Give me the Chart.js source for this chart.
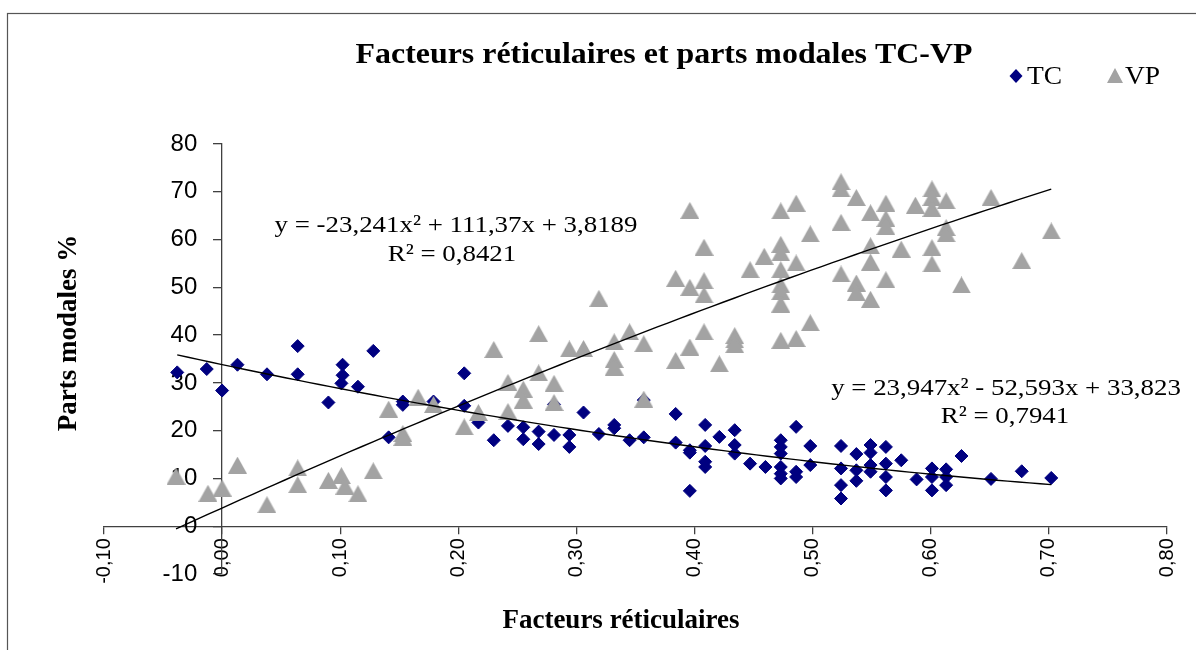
<!DOCTYPE html>
<html>
<head>
<meta charset="utf-8">
<script src="https://cdn.jsdelivr.net/npm/chart.js@4.4.1/dist/chart.umd.min.js"></script>
<style>
  html, body { margin: 0; padding: 0; background: #fff; }
  #wrap { width: 1196px; height: 650px; position: relative; }
</style>
</head>
<body>
<div id="wrap"><canvas id="modalChart"></canvas></div>
<script>
// Parts modales TC (transports collectifs) par facteur réticulaire
const tcX = [-0.038, -0.013, 0.000, 0.013, 0.038, 0.064, 0.064, 0.090, 0.102, 0.102,
             0.101, 0.115, 0.128, 0.141, 0.153, 0.153, 0.179, 0.205, 0.205, 0.217,
             0.230, 0.242, 0.255, 0.255, 0.268, 0.268, 0.281, 0.281, 0.294, 0.294,
             0.306, 0.319, 0.332, 0.332, 0.345, 0.357, 0.357, 0.384, 0.384, 0.396,
             0.396, 0.396, 0.409, 0.409, 0.409, 0.409, 0.421, 0.434, 0.434, 0.434,
             0.447, 0.460, 0.473, 0.473, 0.473, 0.473, 0.473, 0.473, 0.486, 0.486,
             0.486, 0.498, 0.498, 0.524, 0.524, 0.524, 0.524, 0.537, 0.537, 0.537,
             0.549, 0.549, 0.549, 0.549, 0.562, 0.562, 0.562, 0.562, 0.575, 0.588,
             0.601, 0.601, 0.601, 0.613, 0.613, 0.613, 0.626, 0.651, 0.677, 0.702];
const tcY = [32.2, 32.9, 28.4, 33.8, 31.8, 37.7, 31.8, 25.9, 33.8, 31.6,
             29.9, 29.2, 36.7, 18.6, 26.1, 25.4, 26.1, 32.0, 25.2, 21.7,
             18.0, 21.0, 20.7, 18.2, 19.8, 17.2, 19.1, 25.5, 19.1, 16.6,
             23.8, 19.3, 21.2, 20.5, 18.0, 18.6, 26.4, 23.5, 17.5, 15.9,
             15.4, 7.4, 21.2, 16.8, 13.5, 12.4, 18.7, 20.1, 17.0, 15.2,
             13.1, 12.4, 18.0, 16.6, 15.2, 12.4, 11.0, 10.0, 20.8, 11.4,
             10.3, 16.8, 12.8, 16.8, 12.1, 8.6, 5.8, 15.1, 11.7, 9.5,
             17.0, 15.4, 12.8, 11.4, 16.6, 13.1, 10.3, 7.5, 13.8, 9.8,
             12.1, 10.3, 7.5, 11.9, 10.3, 8.6, 14.7, 9.9, 11.5, 10.1];

// Parts modales VP (voiture particulière)
const vpX = [-0.039, -0.012, 0.000, 0.013, 0.038, 0.064, 0.064, 0.090, 0.101, 0.104,
             0.115, 0.128, 0.141, 0.153, 0.153, 0.166, 0.179, 0.205, 0.217, 0.230,
             0.242, 0.242, 0.255, 0.255, 0.268, 0.268, 0.281, 0.281, 0.294, 0.306,
             0.319, 0.332, 0.332, 0.332, 0.345, 0.357, 0.357, 0.384, 0.384, 0.396,
             0.396, 0.396, 0.408, 0.408, 0.408, 0.408, 0.421, 0.434, 0.434, 0.434,
             0.447, 0.459, 0.473, 0.473, 0.473, 0.473, 0.473, 0.473, 0.473, 0.473,
             0.486, 0.486, 0.486, 0.498, 0.498, 0.524, 0.524, 0.524, 0.524, 0.537,
             0.537, 0.537, 0.549, 0.549, 0.549, 0.549, 0.562, 0.562, 0.562, 0.562,
             0.575, 0.587, 0.601, 0.601, 0.601, 0.601, 0.601, 0.613, 0.613, 0.613,
             0.626, 0.651, 0.677, 0.702];
const vpY = [10.5, 6.9, 8.0, 12.8, 4.5, 12.2, 8.7, 9.6, 10.6, 8.4,
             6.8, 11.6, 24.5, 19.4, 18.6, 27.0, 25.5, 20.8, 23.8, 37.0,
             24.0, 30.1, 28.7, 26.4, 32.1, 40.3, 29.9, 25.9, 37.1, 37.2,
             47.7, 38.6, 34.9, 33.3, 40.7, 26.6, 38.2, 34.7, 51.9, 37.5,
             50.0, 66.1, 58.4, 51.4, 48.4, 40.7, 34.0, 39.9, 39.0, 38.0,
             53.7, 56.5, 66.0, 59.0, 57.2, 53.7, 50.5, 49.1, 46.5, 38.9,
             67.6, 55.1, 39.3, 61.2, 42.6, 72.1, 70.6, 63.6, 52.8, 68.8,
             50.9, 48.9, 65.6, 58.7, 55.3, 47.5, 67.6, 64.4, 62.7, 51.6,
             58.0, 67.2, 70.6, 68.8, 66.5, 58.3, 54.9, 68.1, 62.5, 61.2,
             50.5, 68.8, 55.6, 61.8];

// Courbes de tendance polynomiales (ordre 2) : a, b, c
const tcFit = [23.947, -52.593, 33.823];
const vpFit = [-23.241, 111.37, 3.8189];
const tcEquation = ['y = 23,947x² - 52,593x + 33,823', 'R² = 0,7941'];
const vpEquation = ['y = -23,241x² + 111,37x + 3,8189', 'R² = 0,8421'];

const seriesNames = ['TC', 'VP'];
const xTickLabels = ['-0,10', '0,00', '0,10', '0,20', '0,30', '0,40', '0,50', '0,60', '0,70', '0,80'];
const yTickLabels = ['-10', '0', '10', '20', '30', '40', '50', '60', '70', '80'];

const chartTitle = 'Facteurs réticulaires et parts modales TC-VP';
const xTitle = 'Facteurs réticulaires';
const yTitle = 'Parts modales %';

const TC_COLOR = '#000080';
const VP_COLOR = '#a3a3a3';
const AXIS_COLOR = '#404040';
const SERIF = '"Liberation Serif", "Times New Roman", serif';
const SANS = '"Liberation Sans", Arial, sans-serif';

function toPoints(xs, ys) {
    return xs.map((x, i) => ({ x: x, y: ys[i] }));
}

// Trace la courbe y = a*x^2 + b*x + c sur l'étendue des x de la série
function fitCurve(coefs, xs) {
    const lo = Math.min(...xs);
    const hi = Math.max(...xs);
    const pts = [];
    for (let i = 0; i <= 80; i++) {
        const x = lo + (hi - lo) * i / 80;
        pts.push({ x: x, y: coefs[0] * x * x + coefs[1] * x + coefs[2] });
    }
    return pts;
}

// Marqueur triangle type Excel
function triangleMarker(w, h, color) {
    const c = document.createElement('canvas');
    c.width = w;
    c.height = h;
    const g = c.getContext('2d');
    g.fillStyle = color;
    g.beginPath();
    g.moveTo(w / 2, 0);
    g.lineTo(w, h);
    g.lineTo(0, h);
    g.closePath();
    g.fill();
    return c;
}

const vpMarker = triangleMarker(19, 17, VP_COLOR);
const vpLegendMarker = triangleMarker(16, 15, VP_COLOR);

// Texte étiré horizontalement (police un peu large)
function drawText(ctx, text, x, y, font, align, sx) {
    ctx.save();
    ctx.font = font;
    ctx.textAlign = align;
    ctx.textBaseline = 'alphabetic';
    ctx.fillStyle = '#000';
    ctx.translate(x, y);
    ctx.scale(sx, 1);
    ctx.fillText(text, 0, 0);
    ctx.restore();
}

const decorations = {
    id: 'decorations',
    beforeDraw(chart) {
        const ctx = chart.ctx;
        ctx.save();
        ctx.fillStyle = '#fff';
        ctx.fillRect(0, 0, chart.width, chart.height);
        ctx.strokeStyle = '#555';
        ctx.lineWidth = 1.2;
        ctx.strokeRect(7.5, 13.5, chart.width + 20, chart.height + 20);
        ctx.restore();
    },
    afterDraw(chart) {
        const ctx = chart.ctx;

        // titre
        drawText(ctx, chartTitle, 664, 63, 'bold 29px ' + SERIF, 'center', 1.1);

        // titres des axes
        drawText(ctx, xTitle, 621, 628, 'bold 27px ' + SERIF, 'center', 1.0);
        ctx.save();
        ctx.translate(76, 333);
        ctx.rotate(-Math.PI / 2);
        drawText(ctx, yTitle, 0, 0, 'bold 27px ' + SERIF, 'center', 1.0);
        ctx.restore();

        // légende
        ctx.save();
        ctx.fillStyle = TC_COLOR;
        ctx.beginPath();
        ctx.moveTo(1016, 69);
        ctx.lineTo(1022.5, 76);
        ctx.lineTo(1016, 83);
        ctx.lineTo(1009.5, 76);
        ctx.closePath();
        ctx.fill();
        ctx.drawImage(vpLegendMarker, 1107, 68);
        ctx.restore();
        drawText(ctx, seriesNames[0], 1027, 84, '25px ' + SERIF, 'left', 1.1);
        drawText(ctx, seriesNames[1], 1125, 84, '25px ' + SERIF, 'left', 1.1);

        // équations des courbes de tendance
        drawText(ctx, vpEquation[0], 456, 232, '24px ' + SERIF, 'center', 1.12);
        drawText(ctx, vpEquation[1], 452, 261, '24px ' + SERIF, 'center', 1.12);
        drawText(ctx, tcEquation[0], 1006, 395, '24px ' + SERIF, 'center', 1.12);
        drawText(ctx, tcEquation[1], 1005, 423, '24px ' + SERIF, 'center', 1.12);
    }
};

const axisGrid = (len) => ({
    display: true,
    drawOnChartArea: false,
    drawTicks: true,
    tickLength: len,
    color: AXIS_COLOR,
    lineWidth: 1.3
});

const ctx = document.getElementById('modalChart').getContext('2d');
const modalChart = new Chart(ctx, {
    type: 'scatter',
    data: {
        datasets: [
            {
                label: seriesNames[0],
                data: toPoints(tcX, tcY),
                pointStyle: 'rectRot',
                pointRadius: 6.5,
                backgroundColor: TC_COLOR,
                borderColor: TC_COLOR,
                borderWidth: 1,
                order: 3
            },
            {
                label: seriesNames[1],
                data: toPoints(vpX, vpY),
                pointStyle: vpMarker,
                backgroundColor: VP_COLOR,
                borderColor: VP_COLOR,
                order: 2
            },
            {
                label: 'Poly. (TC)',
                data: fitCurve(tcFit, tcX),
                showLine: true,
                pointRadius: 0,
                borderColor: '#000',
                borderWidth: 1.4,
                order: 1
            },
            {
                label: 'Poly. (VP)',
                data: fitCurve(vpFit, vpX),
                showLine: true,
                pointRadius: 0,
                borderColor: '#000',
                borderWidth: 1.4,
                order: 1
            }
        ]
    },
    options: {
        responsive: true,
        maintainAspectRatio: false,
        animation: false,
        events: [],
        layout: {
            padding: { left: 104, right: 24, top: 144, bottom: 76 }
        },
        plugins: {
            legend: { display: false },
            title: { display: false },
            tooltip: { enabled: false }
        },
        scales: {
            x: {
                type: 'linear',
                min: -0.1,
                max: 0.8,
                position: { y: 0 },
                ticks: {
                    stepSize: 0.1,
                    autoSkip: false,
                    minRotation: 90,
                    maxRotation: 90,
                    padding: 5,
                    color: '#000',
                    font: { family: SANS, size: 20 },
                    callback: (value, index) => xTickLabels[index]
                },
                grid: axisGrid(7),
                border: { display: true, color: AXIS_COLOR, width: 1.3 }
            },
            // axe vertical croisant en x = 0 (trait et graduations)
            y: {
                type: 'linear',
                min: -10,
                max: 80,
                position: { x: 0 },
                ticks: { stepSize: 10, display: false },
                grid: axisGrid(8),
                border: { display: true, color: AXIS_COLOR, width: 1.3 }
            },
            // étiquettes de l'axe vertical, décalées à gauche du trait
            yLabels: {
                axis: 'y',
                type: 'linear',
                min: -10,
                max: 80,
                position: { x: -0.021 },
                ticks: {
                    stepSize: 10,
                    color: '#000',
                    font: { family: SANS, size: 24 },
                    callback: (value, index) => yTickLabels[index]
                },
                grid: { display: false },
                border: { display: false }
            }
        }
    },
    plugins: [decorations]
});
</script>
</body>
</html>
